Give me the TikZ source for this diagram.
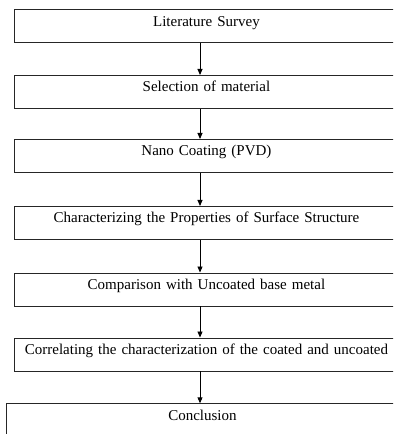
\documentclass[tikz,border=0pt]{standalone}
\usepackage{fontspec}
\setmainfont{Liberation Serif}
\usetikzlibrary{arrows.meta}
\begin{document}
\begin{tikzpicture}[x=1bp,y=-1bp,
  stepbox/.style={draw=black!85, line width=0.9bp, inner sep=0pt, anchor=north west,
    minimum width=384bp, text width=384bp, align=center,
    font=\fontsize{15bp}{17bp}\selectfont, text height=16.4bp, text depth=16.6bp},
  flow/.style={draw=black, line width=0.9bp, -{Triangle[width=5bp,length=6bp]}}]
\useasboundingbox (0,0) rectangle (393,434);
\clip (0,0) rectangle (393,434);
\node[stepbox] (b1) at (14,9.3) {Literature Survey};
\node[stepbox] (b2) at (14,75) {Selection of material};
\node[stepbox] (b3) at (14,139) {Nano Coating (PVD)};
\node[stepbox] (b4) at (14,206) {Characterizing the Properties of Surface Structure};
\node[stepbox] (b5) at (14,272.5) {Comparison with Uncoated base metal};
\node[stepbox] (b6) at (14,337.5) {Correlating the characterization of the coated and uncoated};
\node[stepbox, minimum width=392bp, text width=392bp, text depth=30bp] (b7) at (6,403.3) {Conclusion};
\coordinate (ax) at (200,0);
\draw[flow] (b1.south -| ax) -- (b2.north -| ax);
\draw[flow] (b2.south -| ax) -- (b3.north -| ax);
\draw[flow] (b3.south -| ax) -- (b4.north -| ax);
\draw[flow] (b4.south -| ax) -- (b5.north -| ax);
\draw[flow] (b5.south -| ax) -- (b6.north -| ax);
\draw[flow] (b6.south -| ax) -- (b7.north -| ax);
\end{tikzpicture}
\end{document}
